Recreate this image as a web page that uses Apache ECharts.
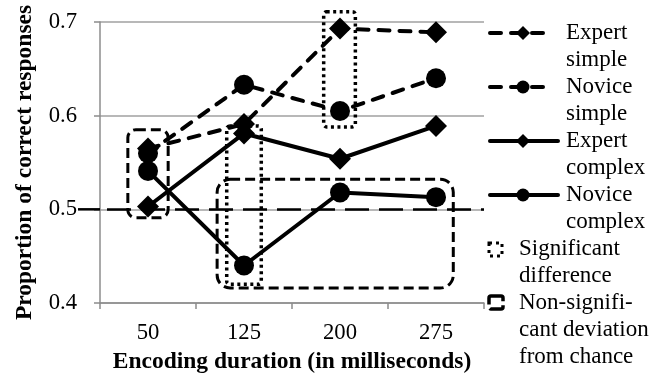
<!DOCTYPE html>
<html><head><meta charset="utf-8">
<script src="https://cdn.jsdelivr.net/npm/echarts@6/dist/echarts.min.js"></script>
<style>html,body{margin:0;padding:0;background:#fff}#c{width:664px;height:374px}</style>
</head><body><div id="c"></div>
<script>
// ---- data ----
const categories = ['50', '125', '200', '275'];
const expertSimple  = [0.565, 0.591, 0.693, 0.689];
const noviceSimple  = [0.560, 0.633, 0.605, 0.640];
const expertComplex = [0.503, 0.581, 0.554, 0.589];
const noviceComplex = [0.541, 0.440, 0.518, 0.513];
const chanceLevel = 0.5;
const yTicks = [0.4, 0.5, 0.6, 0.7];
// boxes: [firstCategoryIndex, lastCategoryIndex, low, high]
const significantBoxes = [[1, 1, 0.420, 0.589], [2, 2, 0.588, 0.711]];
const chanceBoxes      = [[0, 0, 0.491, 0.585], [1, 3, 0.416, 0.532]];
const legendNames = ['Expert\nsimple', 'Novice\nsimple', 'Expert\ncomplex', 'Novice\ncomplex',
                     'Significant\ndifference', 'Non-signifi-\ncant deviation\nfrom chance'];

// ---- styles ----
const FONT = 'Liberation Serif, Times New Roman, serif';
const GRAY = '#8c8c8c';
const simpleDash = [11, 10];
// [leftPad, rightPad (fraction of band), cornerRadius]
const sigPads = [[-0.18, 0.18, 3], [-0.17, 0.16, 3]];
const chancePads = [[-0.21, 0.21, 8], [-0.28, 0.18, 13]];

function boxRenderer(pads, lineWidth, dash) {
  return function (params, api) {
    const pLow = api.coord([api.value(0), api.value(2)]);
    const pHigh = api.coord([api.value(1), api.value(3)]);
    const band = api.size([1, 0])[0];
    const pad = pads[params.dataIndex];
    const x0 = pLow[0] + pad[0] * band, x1 = pHigh[0] + pad[1] * band;
    const y0 = pHigh[1], y1 = pLow[1];
    return {
      type: 'rect',
      shape: { x: x0, y: y0, width: x1 - x0, height: y1 - y0, r: pad[2] },
      style: { fill: 'none', stroke: '#000', lineWidth: lineWidth, lineDash: dash }
    };
  };
}

function lineSeries(name, data, symbol, size, dashed) {
  return {
    name: name, type: 'line', data: data, symbol: symbol, symbolSize: size,
    itemStyle: { color: '#000' },
    lineStyle: { color: '#000', width: 4, type: dashed ? simpleDash : 'solid', cap: 'round' },
    z: 5
  };
}

// legend built from graphics
const legendGraphics = [];
const rowH = 27, top0 = 33;
const sampleRows = [0, 2, 4, 6];
const sampleDefs = [['diamond', true], ['circle', true], ['diamond', false], ['circle', false]];
sampleDefs.forEach(function (d, i) {
  const y = top0 + sampleRows[i] * rowH;
  legendGraphics.push({
    type: 'line', shape: { x1: 490, y1: y, x2: d[1] ? 548 : 558, y2: y },
    style: { stroke: '#000', lineWidth: 4, lineDash: d[1] ? [11, 10] : null, lineCap: 'round' }
  });
  if (d[0] === 'diamond') {
    legendGraphics.push({ type: 'polygon', shape: { points: [[523, y - 7], [530, y], [523, y + 7], [516, y]] }, style: { fill: '#000' } });
  } else {
    legendGraphics.push({ type: 'circle', shape: { cx: 523, cy: y, r: 6.5 }, style: { fill: '#000' } });
  }
  legendGraphics.push({
    type: 'text', left: 566, top: y - 13.5,
    style: { text: legendNames[i], font: '23px ' + FONT, fill: '#000', lineHeight: rowH }
  });
});
// significant difference icon
const ySig = top0 + 8 * rowH;
legendGraphics.push({ type: 'rect', shape: { x: 489, y: ySig - 6, width: 13, height: 13 },
  style: { fill: 'none', stroke: '#000', lineWidth: 3, lineDash: [3, 4] } });
legendGraphics.push({ type: 'text', left: 519, top: ySig - 13.5,
  style: { text: legendNames[4], font: '23px ' + FONT, fill: '#000', lineHeight: rowH } });
const yNs = top0 + 10 * rowH;
legendGraphics.push({ type: 'rect', shape: { x: 489, y: yNs - 7, width: 14, height: 13, r: 2 },
  style: { fill: 'none', stroke: '#000', lineWidth: 3.5, lineDash: [16, 4] } });
legendGraphics.push({ type: 'text', left: 519, top: yNs - 13.5,
  style: { text: legendNames[5], font: '23px ' + FONT, fill: '#000', lineHeight: rowH } });

const chart = echarts.init(document.getElementById('c'), null, { renderer: 'canvas' });
chart.setOption({
  animation: false,
  backgroundColor: '#fff',
  grid: { left: 100, right: 180, top: 22, bottom: 71, containLabel: false, outerBoundsMode: 'none' },
  xAxis: {
    type: 'category', data: categories, boundaryGap: true,
    axisLine: { lineStyle: { color: GRAY, width: 1.5 } },
    axisTick: { show: true, length: 6, alignWithLabel: false, lineStyle: { color: GRAY, width: 1.5 } },
    axisLabel: { color: '#000', fontSize: 22.7, fontFamily: FONT, margin: 19 },
    name: 'Encoding duration (in milliseconds)', nameLocation: 'middle', nameGap: 46,
    nameTextStyle: { color: '#000', fontSize: 23.5, fontWeight: 'bold', fontFamily: FONT }
  },
  yAxis: {
    type: 'value', min: yTicks[0], max: yTicks[yTicks.length - 1], interval: 0.1,
    axisLine: { show: true, lineStyle: { color: GRAY, width: 1.5 } },
    axisTick: { show: true, length: 6, lineStyle: { color: GRAY, width: 1.5 } },
    splitLine: { lineStyle: { color: '#a0a0a0', width: 1.5 } },
    axisLabel: { color: '#000', fontSize: 22.7, fontFamily: FONT, margin: 23,
      formatter: function (v) { return v.toFixed(1); } },
    name: 'Proportion of correct responses', nameLocation: 'middle', nameGap: 63, nameRotate: 90,
    nameTextStyle: { color: '#000', fontSize: 23.5, fontWeight: 'bold', fontFamily: FONT }
  },
  graphic: legendGraphics,
  series: [
    {
      name: 'chance', type: 'line', data: [], z: 2,
      markLine: {
        silent: true, symbol: 'none', label: { show: false },
        lineStyle: { color: '#000', width: 2.5, type: [24, 10], dashOffset: 27 },
        data: [{ yAxis: chanceLevel }]
      }
    },
    lineSeries('Expert simple', expertSimple, 'diamond', 22, true),
    lineSeries('Novice simple', noviceSimple, 'circle', 20, true),
    lineSeries('Expert complex', expertComplex, 'diamond', 22, false),
    lineSeries('Novice complex', noviceComplex, 'circle', 20, false),
    {
      name: 'Significant difference', type: 'custom', clip: false, z: 6,
      encode: { x: [0, 1], y: [2, 3] },
      renderItem: boxRenderer(sigPads, 3.5, [3, 3.5]),
      data: significantBoxes
    },
    {
      name: 'Non-significant deviation from chance', type: 'custom', clip: false, z: 6,
      encode: { x: [0, 1], y: [2, 3] },
      renderItem: boxRenderer(chancePads, 3, [10, 5]),
      data: chanceBoxes
    }
  ]
});
// extend the chance line to the left of the axis, as in the reference
const chanceY = chart.convertToPixel({ yAxisIndex: 0 }, chanceLevel);
const axisX = chart.convertToPixel({ xAxisIndex: 0 }, 0) - chart.getModel().getComponent('xAxis').axis.getBandWidth() / 2;
chart.setOption({ graphic: legendGraphics.concat([{
  type: 'line', z: 3, shape: { x1: axisX - 22, y1: chanceY, x2: axisX, y2: chanceY },
  style: { stroke: '#000', lineWidth: 2.5 }
}]) });
</script>
</body></html>
